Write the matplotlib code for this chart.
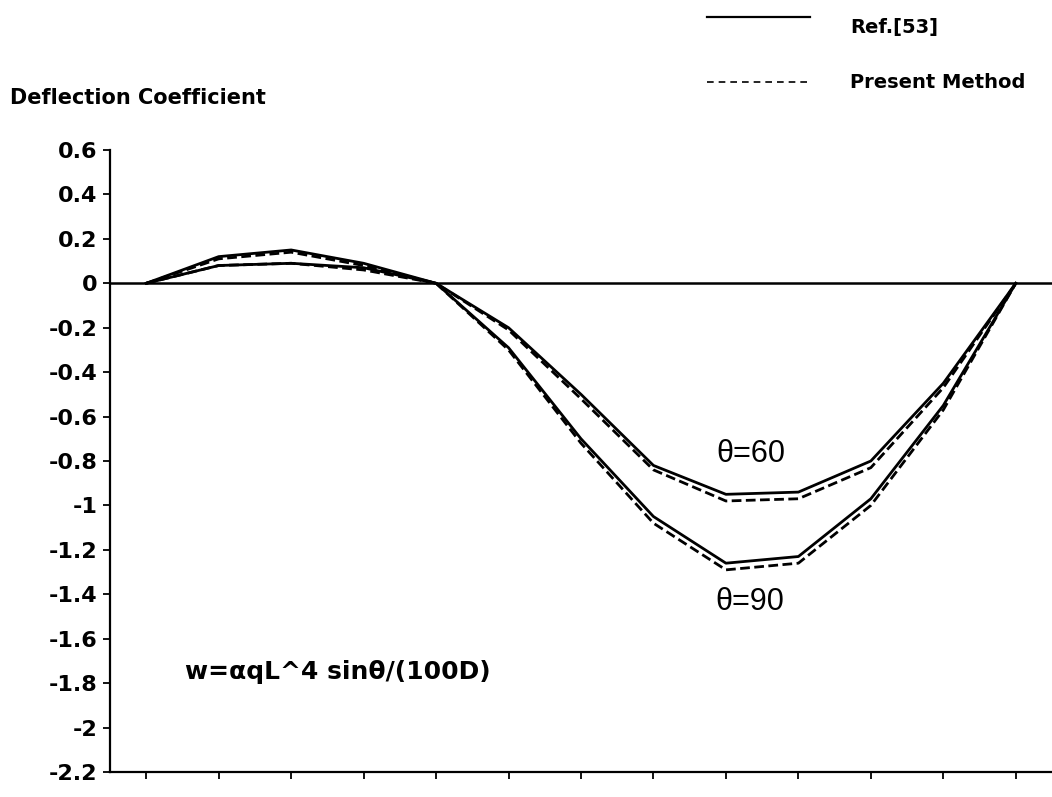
import matplotlib
matplotlib.use("Agg")
import matplotlib.pyplot as plt
from matplotlib.lines import Line2D

# deflection coefficients at 13 equally spaced stations
stations = list(range(13))
ref_90 = [0, 0.12, 0.15, 0.09, 0, -0.29, -0.70, -1.05, -1.26, -1.23, -0.97, -0.55, 0]
present_90 = [0, 0.11, 0.14, 0.08, 0, -0.30, -0.72, -1.08, -1.29, -1.26, -1.00, -0.57, 0]
ref_60 = [0, 0.08, 0.09, 0.07, 0, -0.20, -0.50, -0.82, -0.95, -0.94, -0.80, -0.45, 0]
present_60 = [0, 0.08, 0.09, 0.06, 0, -0.21, -0.52, -0.84, -0.98, -0.97, -0.83, -0.47, 0]

y_ticks = [0.6, 0.4, 0.2, 0, -0.2, -0.4, -0.6, -0.8, -1, -1.2, -1.4, -1.6, -1.8, -2, -2.2]
y_labels = ["0.6", "0.4", "0.2", "0", "-0.2", "-0.4", "-0.6", "-0.8", "-1",
            "-1.2", "-1.4", "-1.6", "-1.8", "-2", "-2.2"]

W, H = 1052, 797
fig = plt.figure(figsize=(W / 100, H / 100), dpi=100)
ax = fig.add_axes([110 / W, 25 / H, 942 / W, 622 / H])

lw = 2.0
dash = (0, (3.5, 1.6))
ax.axhline(0, color="black", lw=1.8)
ax.plot(stations, ref_90, color="black", lw=lw)
ax.plot(stations, present_90, color="black", lw=lw, linestyle=dash)
ax.plot(stations, ref_60, color="black", lw=lw)
ax.plot(stations, present_60, color="black", lw=lw, linestyle=dash)

ax.set_xlim(-0.5, 12.5)
ax.set_ylim(-2.2, 0.6)
ax.set_xticks(stations)
ax.set_xticklabels([])
ax.set_yticks(y_ticks)
ax.set_yticklabels(y_labels, fontsize=16, fontweight="bold", family="DejaVu Sans")
ax.tick_params(axis="both", direction="out", length=5, width=1.3, color="black")
ax.tick_params(axis="y", pad=4)

for side in ["top", "right"]:
    ax.spines[side].set_visible(False)
for side in ["left", "bottom"]:
    ax.spines[side].set_linewidth(1.6)

# curve labels
ax.text(8.35, -0.77, "\u03b8=60", fontsize=22, family="Liberation Sans",
        ha="center", va="center")
ax.text(8.33, -1.435, "\u03b8=90", fontsize=22, family="Liberation Sans",
        ha="center", va="center")
ax.text(0.54, -1.75, "w=\u03b1qL^4 sin\u03b8/(100D)", fontsize=18,
        fontweight="bold", family="DejaVu Sans", ha="left", va="center")

# y axis title
fig.text(10 / W, 1 - 98 / H, "Deflection Coefficient", fontsize=15,
         fontweight="bold", family="DejaVu Sans", ha="left", va="center")

# legend drawn by hand in the top right corner
fig.add_artist(Line2D([707 / W, 810 / W], [1 - 17 / H, 1 - 17 / H],
                      color="black", lw=1.6))
fig.add_artist(Line2D([707 / W, 810 / W], [1 - 82 / H, 1 - 82 / H],
                      color="black", lw=1.2, linestyle=(0, (4, 3))))
fig.text(850 / W, 1 - 28 / H, "Ref.[53]", fontsize=14, fontweight="bold",
         family="DejaVu Sans", ha="left", va="center")
fig.text(850 / W, 1 - 82 / H, "Present Method", fontsize=14, fontweight="bold",
         family="DejaVu Sans", ha="left", va="center")

fig.savefig("out.png", dpi=100)
